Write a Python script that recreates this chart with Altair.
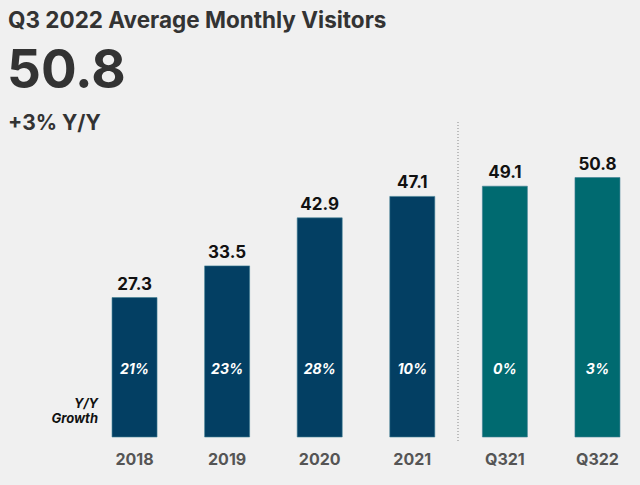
import altair as alt
import pandas as pd

categories = ["2018", "2019", "2020", "2021", "Q321", "Q322"]
values = [27.3, 33.5, 42.9, 47.1, 49.1, 50.8]
growth = ["21%", "23%", "28%", "10%", "0%", "3%"]
period = ["Annual", "Annual", "Annual", "Annual", "Quarter", "Quarter"]

df = pd.DataFrame({"cat": categories, "value": values, "growth": growth, "period": period})

FONT = "Inter"
xenc = alt.X("cat:N", sort=categories,
             scale=alt.Scale(paddingInner=0.514, paddingOuter=0.13),
             axis=alt.Axis(title=None, labelAngle=0, ticks=False, domain=False,
                           labelFont=FONT, labelFontSize=16, labelFontWeight="bold",
                           labelColor="#555555", labelPadding=14))
yscale = alt.Scale(domain=[0, 60.1], nice=False)

base = alt.Chart(df)

bars = base.mark_bar(stroke="#3f7f94", strokeWidth=0.6).encode(
    x=xenc,
    y=alt.Y("value:Q", scale=yscale, axis=None),
    color=alt.Color("period:N", scale=alt.Scale(domain=["Annual", "Quarter"],
                                                range=["#033f63", "#006a70"]), legend=None),
)

vals = base.mark_text(baseline="bottom", dy=-4, font=FONT, fontSize=17,
                      fontWeight="bold", color="#111111").encode(
    x=alt.X("cat:N", sort=categories),
    y=alt.Y("value:Q", scale=yscale),
    text=alt.Text("value:Q", format=".1f"),
)

growth_txt = base.mark_text(baseline="middle", font=FONT, fontSize=14,
                            fontWeight="bold", fontStyle="italic", color="white").encode(
    x=alt.X("cat:N", sort=categories),
    y=alt.datum(13.2),
    text="growth:N",
)

divider = alt.Chart(pd.DataFrame({"a": [0]})).mark_rule(
    color="#888888", strokeDash=[1, 2], strokeWidth=1).encode(
    x=alt.value(358), y=alt.value(-8), y2=alt.value(313))

yy = alt.Chart(pd.DataFrame({"t": [["Y/Y", "Growth"]]})).mark_text(
    align="right", baseline="alphabetic", font=FONT, fontSize=13, fontWeight="bold",
    fontStyle="italic", color="#111111", lineHeight=15).encode(
    x=alt.value(-2), y=alt.value(278), text="t")

title1 = alt.Chart(pd.DataFrame({"t": ["Q3 2022 Average Monthly Visitors"]})).mark_text(
    align="left", baseline="alphabetic", font=FONT, fontSize=22.5, fontWeight="bold",
    color="#333333").encode(x=alt.value(-92), y=alt.value(-102), text="t")

big = alt.Chart(pd.DataFrame({"t": ["50.8"]})).mark_text(
    align="left", baseline="alphabetic", font=FONT, fontSize=53, fontWeight="bold",
    color="#333333").encode(x=alt.value(-93), y=alt.value(-42), text="t")

sub = alt.Chart(pd.DataFrame({"t": ["+3% Y/Y"]})).mark_text(
    align="left", baseline="alphabetic", font=FONT, fontSize=21, fontWeight="bold",
    color="#333333").encode(x=alt.value(-92), y=alt.value(0), text="t")

chart = alt.layer(bars, vals, growth_txt, divider, yy, title1, big, sub).properties(
    width=532, height=307,
    background="#f0f0f0",
    padding={"left": 100, "top": 130, "right": 8, "bottom": 48},
    autosize=alt.AutoSizeParams(type="none"),
).configure_view(stroke=None)

chart.save("out.html", embed_options={"renderer": "svg", "actions": False})
